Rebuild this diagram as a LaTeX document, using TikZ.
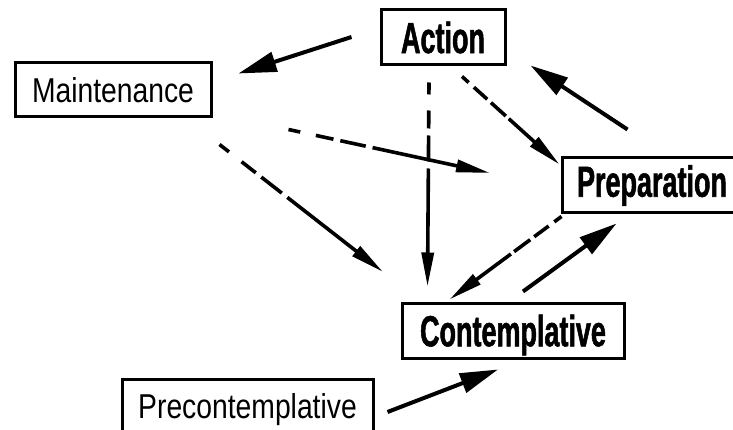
\documentclass[tikz,border=0pt]{standalone}
\usepackage{fontspec}
\setmainfont{Liberation Sans}
% condensed faces for the stage labels
\newfontfamily\lightlabel[FakeStretch=0.82]{Liberation Sans}
\newfontfamily\heavylabel[FakeStretch=0.62,FakeBold=1.2]{Liberation Sans Bold}
\usetikzlibrary{arrows.meta,calc}

\tikzset{
  stage/.style={draw, line width=3pt, inner sep=0pt, minimum height=55pt, text=black},
  plainstage/.style={stage, font=\lightlabel\fontsize{34.5}{38}\selectfont},
  keystage/.style={stage, font=\heavylabel\fontsize{43.5}{48}\selectfont},
  bigarrow/.style={line width=4pt, -{Triangle[length=38pt,width=20pt]}},
  thinarrow/.style={line width=3.6pt, -{Triangle[length=34pt,width=12pt]}},
  longfade/.style={thinarrow, dash pattern=on 12pt off 16pt on 18pt off 7pt on 26pt off 7pt on 2000pt},
  shortfade/.style={thinarrow, dash pattern=on 9pt off 7pt on 18pt off 5pt on 20pt off 4pt on 2000pt}
}

\begin{document}
\begin{tikzpicture}[x=1pt, y=-1pt]
  \clip (0,0) rectangle (733,430);
  \fill[white] (0,0) rectangle (733,430);

  % stages of change
  \node[keystage, minimum width=124pt] (act) at (443,37.5) {Action};
  \node[plainstage, minimum width=196pt, minimum height=54pt] (mnt) at (113,90) {Maintenance};
  \node[keystage, minimum width=180pt] (prep) at (652,185.5) {Preparation};
  \node[keystage, minimum width=222pt, text depth=0pt] (con) at (513,330.5) {Contemplative};
  \node[plainstage, minimum width=251pt, minimum height=52pt, text depth=0pt] (pre) at (247.5,405.5) {Precontemplative};

  % open ends of the two relapse arrows
  \coordinate (mntTipA) at (490,173);
  \coordinate (mntTipB) at (383,272);

  % solid transitions
  \draw[bigarrow] ($(act.west)+(-28,-0.5)$) -- ($(mnt.north east)+(26,12)$);
  \draw[bigarrow] ($(prep.north west)+(67,-27)$) -- ($(act.south east)+(24,-1)$);
  \draw[bigarrow] ($(con.north)+(10,-10)$) -- ($(prep.south west)+(56,9)$);
  \draw[bigarrow] ($(pre.east)+(13,6.5)$) -- ($(con.south)+(-15,10)$);

  % dashed transitions fading into solid
  \draw[shortfade] ($(act.south)+(19,10)$) -- ($(prep.north west)+(-1,8)$);
  \draw[longfade] ($(act.south)+(-14,16)$) -- ($(con.north west)+(27,-15)$);
  \draw[shortfade] ($(prep.south west)+(1,2)$) -- ($(con.north west)+(49,-2)$);
  \draw[longfade] ($(mnt.south east)+(76,11)$) -- (mntTipA);
  \draw[longfade] ($(mnt.south east)+(7,26)$) -- (mntTipB);
\end{tikzpicture}
\end{document}
